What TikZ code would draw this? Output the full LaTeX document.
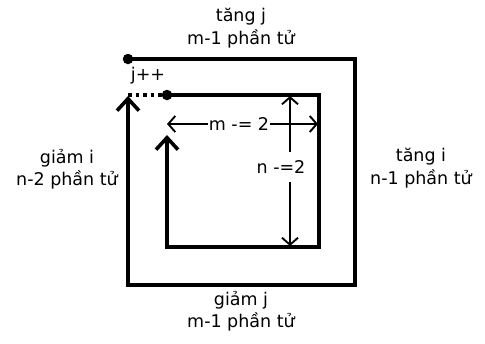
\documentclass[tikz,border=0pt]{standalone}
\usepackage{fontspec}
\setmainfont{DejaVu Sans}
\usetikzlibrary{arrows.meta}
\begin{document}
\begin{tikzpicture}[x=1pt,y=-1pt,
  thickline/.style={line width=3.6pt},
  thinline/.style={line width=1.9pt},
  bigtip/.style={-{Straight Barb[length=12pt,width=22pt,line width=3.6pt]}},
  smalltip/.style={{Straight Barb[length=7pt,width=16pt,line width=1.9pt]}-{Straight Barb[length=7pt,width=16pt,line width=1.9pt]}},
  lbl/.style={font=\fontsize{17.5}{22.5}\selectfont, align=center, inner sep=1pt},
  dotmark/.style={circle, fill=black, inner sep=0pt, minimum size=10.5pt}
]
\useasboundingbox (0,0) rectangle (485,343);
% outer path
\coordinate (o0) at (128,59);
\coordinate (o1) at (355,59);
\coordinate (o2) at (355,285);
\coordinate (o3) at (128,285);
\coordinate (o4) at (128,96);
\node[dotmark] (d1) at (o0) {};
\draw[thickline, line join=miter] (o0) -- (o1) -- (o2) -- (o3) -- (128,150);
\draw[thickline, bigtip] (128,150) -- (o4);
% inner path
\coordinate (i0) at (167,95);
\coordinate (i1) at (319,95);
\coordinate (i2) at (319,247);
\coordinate (i3) at (167,247);
\coordinate (i4) at (167,135);
\coordinate (s0) at (128,95);
\draw[line width=3.6pt, dash pattern=on 3.5pt off 4pt] (s0) -- (i0);
\node[dotmark] (d2) at (i0) {};
\draw[thickline, line join=miter] (i0) -- (i1) -- (i2) -- (i3) -- (167,190);
\draw[thickline, bigtip] (167,190) -- (i4);
% m arrow
\coordinate (ma) at (167,124);
\coordinate (mb) at (318,124);
\draw[thinline, smalltip] (ma) -- (mb);
\node[lbl, fill=white] (mlabel) at (239,124) {m -= 2};
% n arrow
\coordinate (na) at (290,96);
\coordinate (nb) at (290,246);
\draw[thinline, smalltip] (na) -- (nb);
\node[lbl, fill=white, minimum height=30pt] (nlabel) at (281,167) {n -=2};
% labels
\node[lbl] (jpp) at (148,76) {j++};
\node[lbl] (top) at (241,28) {tăng j\\m-1 phần tử};
\node[lbl] (bot) at (241,311) {giảm j\\m-1 phần tử};
\node[lbl] (left) at (67,169) {giảm i\\n-2 phần tử};
\node[lbl] (right) at (421,168) {tăng i\\n-1 phần tử};
\end{tikzpicture}
\end{document}
